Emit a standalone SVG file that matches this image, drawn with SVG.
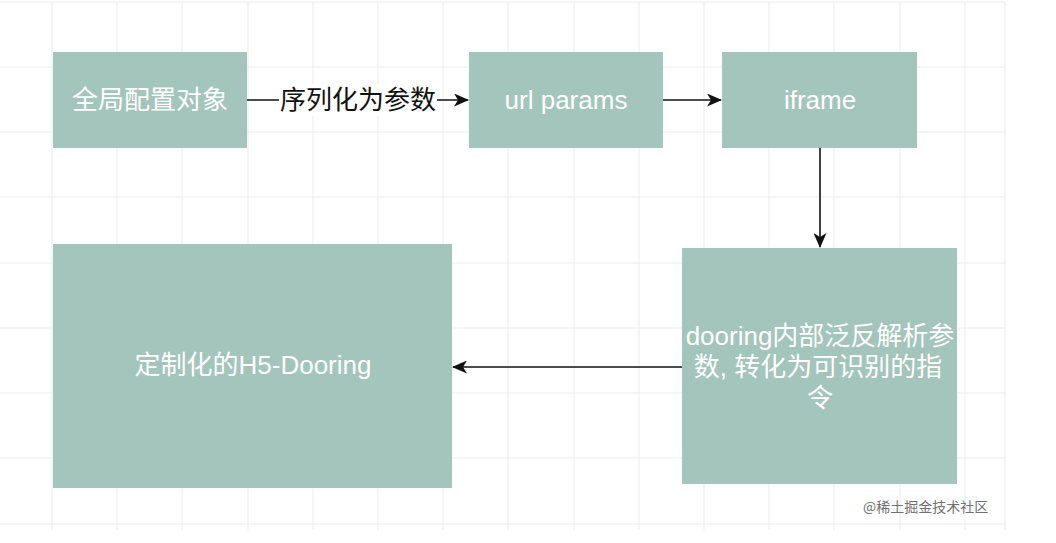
<svg xmlns="http://www.w3.org/2000/svg" width="1056" height="543" viewBox="0 0 1056 543">
<defs>
<style>
.grid line{stroke:#ebebeb;stroke-width:1}
.box{fill:#a3c5bc}
.t{font-family:"Liberation Sans","Noto Sans CJK SC",sans-serif;font-size:26px;fill:#ffffff;text-anchor:middle;dominant-baseline:central}
.lbl{font-family:"Liberation Sans","Noto Sans CJK SC",sans-serif;font-size:26px;fill:#111111;text-anchor:middle;dominant-baseline:central}
.edge{stroke:#111111;stroke-width:1.6;fill:none}
.wm{font-family:"Noto Sans CJK SC",sans-serif;font-size:14px;fill:#707070}
</style>
<marker id="arr" markerUnits="userSpaceOnUse" markerWidth="15" markerHeight="13" viewBox="0 0 15 13" refX="14" refY="6.5" orient="auto">
<path d="M0,0 L15,6.5 L0,13 L4,6.5 Z" fill="#111111"/>
</marker>
</defs>
<rect width="1056" height="543" fill="#ffffff"/>
<g class="grid">
<line x1="0" y1="2" x2="1005" y2="2"/>
<line x1="0" y1="67" x2="1005" y2="67"/>
<line x1="0" y1="132" x2="1005" y2="132"/>
<line x1="0" y1="197" x2="1005" y2="197"/>
<line x1="0" y1="263" x2="1005" y2="263"/>
<line x1="0" y1="328" x2="1005" y2="328"/>
<line x1="0" y1="393" x2="1005" y2="393"/>
<line x1="0" y1="458" x2="1005" y2="458"/>
<line x1="0" y1="524" x2="1005" y2="524"/>
<line x1="52" y1="2" x2="52" y2="530"/>
<line x1="117" y1="2" x2="117" y2="530"/>
<line x1="182" y1="2" x2="182" y2="530"/>
<line x1="248" y1="2" x2="248" y2="530"/>
<line x1="313" y1="2" x2="313" y2="530"/>
<line x1="378" y1="2" x2="378" y2="530"/>
<line x1="443" y1="2" x2="443" y2="530"/>
<line x1="508" y1="2" x2="508" y2="530"/>
<line x1="574" y1="2" x2="574" y2="530"/>
<line x1="639" y1="2" x2="639" y2="530"/>
<line x1="704" y1="2" x2="704" y2="530"/>
<line x1="769" y1="2" x2="769" y2="530"/>
<line x1="834" y1="2" x2="834" y2="530"/>
<line x1="900" y1="2" x2="900" y2="530"/>
<line x1="965" y1="2" x2="965" y2="530"/>
<line x1="1005" y1="2" x2="1005" y2="530"/>
</g>
<g id="connectors">
<line class="edge" x1="247" y1="100" x2="468" y2="100" marker-end="url(#arr)"/>
<rect x="279" y="84" width="158" height="32" fill="#ffffff"/>
<text class="lbl" x="358" y="100">序列化为参数</text>
<line class="edge" x1="663" y1="100" x2="721" y2="100" marker-end="url(#arr)"/>
<line class="edge" x1="820" y1="148" x2="820" y2="247" marker-end="url(#arr)"/>
<line class="edge" x1="682" y1="367" x2="453" y2="367" marker-end="url(#arr)"/>
</g>
<g id="node-config">
<rect class="box" x="53" y="52" width="194" height="96"/>
<text class="t" x="150" y="100">全局配置对象</text>
</g>
<g id="node-urlparams">
<rect class="box" x="469" y="52" width="194" height="96"/>
<text class="t" x="566" y="100">url params</text>
</g>
<g id="node-iframe">
<rect class="box" x="722" y="52" width="195" height="96"/>
<text class="t" x="820" y="100">iframe</text>
</g>
<g id="node-dooring">
<rect class="box" x="682" y="248" width="275" height="236"/>
<text class="t" x="820" y="336">dooring内部泛反解析参</text>
<text class="t" x="818" y="367">数, 转化为可识别的指</text>
<text class="t" x="820" y="398">令</text>
</g>
<g id="node-h5">
<rect class="box" x="53" y="244" width="399" height="244"/>
<text class="t" x="253" y="365">定制化的H5-Dooring</text>
</g>
<text class="wm" x="863" y="512">@稀土掘金技术社区</text>
</svg>
